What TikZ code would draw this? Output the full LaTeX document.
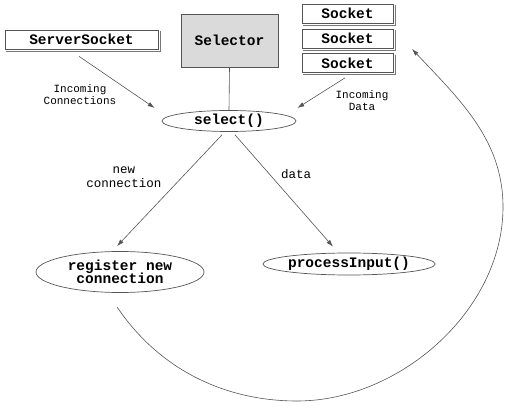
\documentclass[tikz,border=0pt]{standalone}
\usepackage{fontspec}
\setmonofont{Liberation Mono}
\usetikzlibrary{arrows.meta,shapes.geometric}
\definecolor{edge}{HTML}{555555}
\definecolor{boxfill}{HTML}{DADADA}
\begin{document}
\begin{tikzpicture}[x=1pt,y=-1pt,
  every node/.style={inner sep=0pt,text=black},
  bigtxt/.style={font=\ttfamily\bfseries\fontsize{14.5}{15}\selectfont},
  lbl/.style={font=\ttfamily\fontsize{11}{12}\selectfont,align=center},
  lblb/.style={font=\ttfamily\fontsize{12.5}{13.5}\selectfont,align=center},
  classbox/.style={bigtxt,draw=edge,line width=0.7pt,rectangle},
  oval/.style={bigtxt,draw=edge,line width=0.7pt,ellipse,align=center},
  flow/.style={draw=edge,line width=0.6pt,-{Latex[length=7pt,width=4.5pt]}},
  shade/.style={draw=edge!80,line width=0.6pt}
]
\useasboundingbox (0,0) rectangle (516,411);
% boxes
\node[classbox,minimum width=153pt,minimum height=19pt] (ss) at (81.5,39.5) {ServerSocket};
\node[classbox,fill=boxfill,minimum width=97pt,minimum height=53pt] (selr) at (229.5,40.5) {Selector};
\node[classbox,minimum width=91pt,minimum height=19pt] (s1) at (347.5,13.5) {Socket};
\node[classbox,minimum width=91pt,minimum height=19pt] (s2) at (347.5,38.5) {Socket};
\node[classbox,minimum width=91pt,minimum height=19pt] (s3) at (347.5,63) {Socket};
\foreach \b in {ss,s1,s2,s3}{
  \draw[shade] ([shift={(1.6,1.5)}]\b.north east) -- ([shift={(1.6,1.6)}]\b.south east) -- ([shift={(1.5,1.6)}]\b.south west);
}
% ellipses
\node[oval,minimum width=134pt,minimum height=21pt] (sel) at (229,121) {select()};
\node[oval,minimum width=168pt,minimum height=41pt] (reg) at (120,272) {register new\\[-2pt]connection};
\node[oval,minimum width=168pt,minimum height=22pt] (proc) at (349,264) {processInput()};
% labels
\node[lbl] (l1) at (80,95) {Incoming\\Connections};
\node[lbl] (l2) at (362,101) {Incoming\\Data};
\node[lblb] (l3) at (124,177) {new\\connection};
\node[lblb] (l4) at (296,174) {data};
% connectors
\draw[draw=edge,line width=0.6pt] (selr.south) -- (sel.north);
\draw[flow] ([shift={(-2.5,7)}]ss.south) -- ([shift={(-7,-13)}]sel.west);
\draw[flow] ([shift={(-2.5,5)}]s3.south) -- ([shift={(1,-13)}]sel.east);
\draw[flow] ([shift={(-7,3)}]sel.south) -- ([shift={(-3,-5)}]reg.north);
\draw[flow] ([shift={(6,3)}]sel.south) -- ([shift={(-16,-6)}]proc.north);
\coordinate (back) at (412,49);
\coordinate (low) at (297,401);
\coordinate (right) at (503,207);
\draw[flow] ([shift={(-3,14)}]reg.south)
  .. controls (158,368) and (223,401) .. (low)
  .. controls (400,401) and (503,310) .. (right)
  .. controls (503,140) and (460,100) .. (back);
\end{tikzpicture}
\end{document}
